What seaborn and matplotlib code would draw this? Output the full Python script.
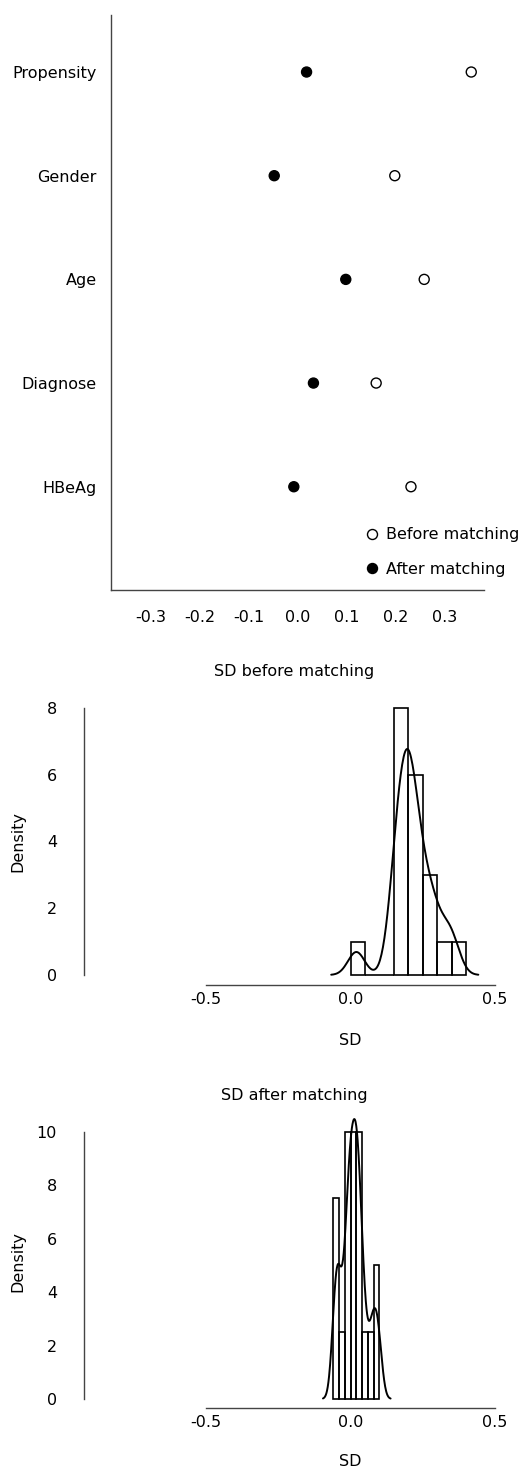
import numpy as np
import pandas as pd
import matplotlib
matplotlib.use("Agg")
import matplotlib.pyplot as plt
import seaborn as sns
from matplotlib.lines import Line2D

# ---------------- data ----------------
variables = ["Propensity", "Gender", "Age", "Diagnose", "HBeAg"]
sd_before = [0.354, 0.198, 0.258, 0.160, 0.231]
sd_after = [0.018, -0.048, 0.098, 0.032, -0.008]
groups = ["Before matching", "After matching"]

before_all = [0.020, 0.152, 0.156, 0.162, 0.170, 0.180, 0.188, 0.194, 0.199,
              0.203, 0.208, 0.214, 0.222, 0.233, 0.246, 0.262, 0.279, 0.294,
              0.330, 0.355]
after_all = [-0.055, -0.048, -0.043, -0.030, -0.015, -0.008, -0.005, -0.002,
             0.004, 0.010, 0.015, 0.018, 0.022, 0.027, 0.032, 0.036, 0.050,
             0.072, 0.085, 0.098]

bins_before = [0.0, 0.05, 0.10, 0.15, 0.20, 0.25, 0.30, 0.35, 0.40]
bins_after = [-0.06, -0.04, -0.02, 0.0, 0.02, 0.04, 0.06, 0.08, 0.10]

top_xticks = [-0.3, -0.2, -0.1, 0.0, 0.1, 0.2, 0.3]
hist_xticks = [-0.5, 0.0, 0.5]
before_yticks = [0, 2, 4, 6, 8]
after_yticks = [0, 2, 4, 6, 8, 10]

# ---------------- style ----------------
sns.set_style("white")
plt.rcParams["font.family"] = ["DejaVu Sans"]
plt.rcParams["font.size"] = 11.5
plt.rcParams["axes.unicode_minus"] = False
plt.rcParams["text.color"] = "black"
plt.rcParams["axes.labelcolor"] = "black"
AX_COLOR = "#444444"

W, H = 526, 1470
fig = plt.figure(figsize=(W / 100, H / 100), dpi=100)


def rect(l, t, r, b):
    return [l / W, 1 - b / H, (r - l) / W, (b - t) / H]


def style_axes(ax):
    for s in ["top", "right"]:
        ax.spines[s].set_visible(False)
    for s in ["left", "bottom"]:
        ax.spines[s].set_color(AX_COLOR)
        ax.spines[s].set_linewidth(1.0)


# ---------------- top: dot plot ----------------
ax1 = fig.add_axes(rect(111, 15, 484, 590))
df = pd.DataFrame({
    "variable": variables * 2,
    "SD": sd_before + sd_after,
    "group": [groups[0]] * len(variables) + [groups[1]] * len(variables),
})
sns.stripplot(data=df, x="SD", y="variable", hue="group", order=variables,
              hue_order=groups,
              palette={groups[0]: "white", groups[1]: "black"},
              jitter=False, dodge=False, size=7.2, edgecolor="black",
              linewidth=1, legend=False, ax=ax1)
ax1.set_xlim(-0.381, 0.380)
ax1.set_ylim(4.996, -0.55)
ax1.set_xticks(top_xticks)
ax1.set_xticklabels([f"{v:.1f}" for v in top_xticks])
ax1.set_xlabel("")
ax1.set_ylabel("")
style_axes(ax1)
ax1.tick_params(axis="x", direction="in", length=5, width=1, color=AX_COLOR,
                labelcolor="black", pad=14.5)
ax1.tick_params(axis="y", direction="in", length=5.5, width=1, color=AX_COLOR,
                labelcolor="black", pad=10.3)

handles = [
    Line2D([], [], marker="o", linestyle="", markerfacecolor="white",
           markeredgecolor="black", markersize=7.2, markeredgewidth=1),
    Line2D([], [], marker="o", linestyle="", markerfacecolor="black",
           markeredgecolor="black", markersize=7.2, markeredgewidth=1),
]
ax1.legend(handles, groups, loc="center left",
           bbox_to_anchor=(364 / W, 1 - 552 / H), bbox_transform=fig.transFigure,
           frameon=False, borderpad=0, borderaxespad=0, handlelength=1.0,
           handletextpad=0.4, labelspacing=1.2)


# ---------------- histograms ----------------
def hist_panel(ax, data, bins, bw, yticks, title, ylim, title_y, xlabel_y):
    sns.histplot(x=data, bins=bins, stat="density", fill=False, color="black",
                 linewidth=1.2, ax=ax)
    sns.kdeplot(x=data, bw_method=bw / np.std(data, ddof=1), cut=3,
                color="black", linewidth=1.4, ax=ax)
    ax.set_xlim(-0.924, 0.517)
    ax.set_ylim(*ylim)
    ax.set_xticks(hist_xticks)
    ax.set_xticklabels([f"{v:.1f}" for v in hist_xticks])
    ax.set_yticks(yticks)
    ax.set_yticklabels([str(v) for v in yticks])
    style_axes(ax)
    ax.spines["left"].set_bounds(yticks[0], yticks[-1])
    ax.spines["bottom"].set_bounds(hist_xticks[0], hist_xticks[-1])
    ax.tick_params(axis="x", direction="in", length=4.5, width=1, color=AX_COLOR,
                   labelcolor="black", pad=5)
    ax.tick_params(axis="y", direction="in", length=5.5, width=1, color=AX_COLOR,
                   labelcolor="black", pad=19)
    ax.set_xlabel("SD")
    ax.set_ylabel("Density")
    ax.xaxis.label.set_va("center")
    ax.yaxis.label.set_va("center")
    ax.xaxis.set_label_coords(0.641, xlabel_y)
    ax.text(0.505, title_y, title, transform=ax.transAxes, ha="center", va="center")


ax2 = fig.add_axes(rect(83.5, 700, 500, 985))
hist_panel(ax2, before_all, bins_before, 0.029, before_yticks,
           "SD before matching", (-0.30, 8.23), 1.099, -0.193)
ax2.yaxis.set_label_coords(-0.1565, 0.504)

ax3 = fig.add_axes(rect(83.5, 1115, 500, 1408.3))
hist_panel(ax3, after_all, bins_after, 0.0135, after_yticks,
           "SD after matching", (-0.348, 10.62), 1.068, -0.182)
ax3.yaxis.set_label_coords(-0.1565, 0.50)

fig.savefig("out.png", dpi=100)
